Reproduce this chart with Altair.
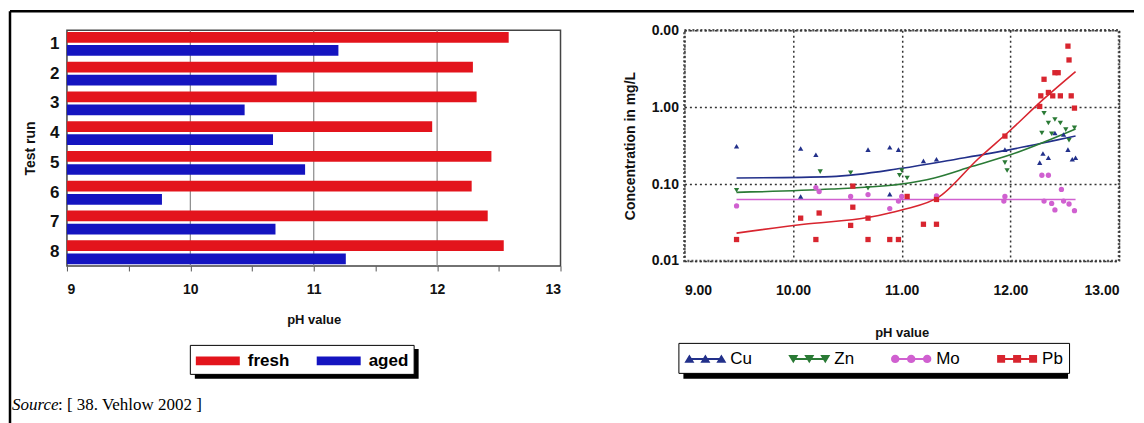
import altair as alt
import pandas as pd

# ---------------- data ----------------
runs = ["1", "2", "3", "4", "5", "6", "7", "8"]
fresh = [12.58, 12.29, 12.32, 11.96, 12.44, 12.28, 12.41, 12.54]
aged = [11.20, 10.70, 10.44, 10.67, 10.93, 9.77, 10.69, 11.26]
bar_series = ["fresh", "aged"]
bar_colors = ["#e3141c", "#1414c0"]
x_ticks_left = [9, 9.5, 10, 10.5, 11, 11.5, 12, 12.5, 13]
grid_left = [10, 11, 12]

cu_ph = [9.48, 10.07, 10.21, 10.69, 10.89, 10.97, 11.20, 11.32, 10.07, 10.89, 11.95, 12.27, 12.30, 12.35, 12.41, 12.49, 12.53, 12.57, 12.60]
cu_c = [0.31, 0.29, 0.24, 0.28, 0.30, 0.28, 0.20, 0.21, 0.069, 0.074, 0.28, 0.19, 0.25, 0.22, 0.46, 0.44, 0.28, 0.21, 0.22]
zn_ph = [9.48, 10.25, 10.53, 10.69, 11.00, 11.05, 11.95, 11.97, 12.29, 12.31, 12.35, 12.41, 12.46, 12.51, 12.59, 12.54, 12.38, 10.98]
zn_c = [0.083, 0.145, 0.14, 0.088, 0.15, 0.12, 0.19, 0.15, 0.46, 0.83, 0.62, 0.69, 0.62, 0.51, 0.54, 0.37, 0.45, 0.13]
mo_ph = [9.48, 10.21, 10.24, 10.53, 10.69, 10.89, 10.97, 11.00, 11.32, 11.95, 11.94, 12.29, 12.35, 12.31, 12.38, 12.41, 12.47, 12.54, 12.59, 12.49]
mo_c = [0.052, 0.09, 0.08, 0.069, 0.073, 0.048, 0.06, 0.069, 0.07, 0.069, 0.06, 0.13, 0.13, 0.06, 0.056, 0.046, 0.085, 0.055, 0.045, 0.06]
pb_ph = [9.48, 10.07, 10.21, 10.24, 10.53, 10.55, 10.55, 10.69, 10.69, 10.89, 10.97, 11.05, 11.20, 11.32, 11.32, 11.95, 12.27, 12.28, 12.31, 12.35, 12.39, 12.41, 12.44, 12.46, 12.53, 12.54, 12.56, 12.59]
pb_c = [0.019, 0.036, 0.019, 0.042, 0.029, 0.094, 0.05, 0.019, 0.036, 0.019, 0.019, 0.069, 0.030, 0.030, 0.063, 0.42, 1.02, 1.4, 2.3, 1.55, 1.4, 2.8, 2.8, 1.4, 6.2, 4.1, 1.4, 0.97]

cu_curve_ph = [9.48, 10.35, 11.0, 11.5, 12.0, 12.6]
cu_curve_c = [0.12, 0.125, 0.16, 0.21, 0.28, 0.42]
zn_curve_ph = [9.48, 10.35, 11.0, 11.3, 11.65, 12.0, 12.6]
zn_curve_c = [0.078, 0.086, 0.10, 0.12, 0.17, 0.24, 0.52]
mo_curve_ph = [9.48, 12.6]
mo_curve_c = [0.063, 0.063]
pb_curve_ph = [9.48, 10.1, 10.7, 11.0, 11.35, 11.7, 12.0, 12.3, 12.6]
pb_curve_c = [0.023, 0.030, 0.037, 0.046, 0.069, 0.21, 0.5, 1.25, 2.9]

metals = ["Cu", "Zn", "Mo", "Pb"]
metal_colors = ["#22308a", "#2a7a35", "#d060d0", "#d8252f"]
metal_shapes = ["triangle-up", "triangle-down", "circle", "square"]
x_ticks_right = [9, 10, 11, 12, 13]
y_ticks_right = [0.01, 0.1, 1, 10]

source_label = "Source"
source_rest = ": [ 38. Vehlow 2002 ]"

# ---------------- legend symbol paths (unit radius = 10 px, all clockwise) ----------------
def tri_up(cx):
    return f"M{cx-0.5:.2f},0.4L{cx:.2f},-0.45L{cx+0.5:.2f},0.4Z"

def tri_down(cx):
    return f"M{cx+0.5:.2f},-0.4L{cx:.2f},0.45L{cx-0.5:.2f},-0.4Z"

def circ(cx):
    return f"M{cx-0.42:.2f},0a0.42,0.42 0 1,1 0.84,0a0.42,0.42 0 1,1 -0.84,0Z"

def sq(cx):
    return f"M{cx-0.4:.2f},-0.4h0.8v0.8h-0.8Z"

line_path = "M-1.6,-0.1H1.6V0.1H-1.6Z"
centers = [-1.6, 0.0, 1.6]
legend_paths = [
    line_path + "".join(f(c) for c in centers)
    for f in (tri_up, tri_down, circ, sq)
]

FONT = "Liberation Sans"

# ---------------- left chart ----------------
bars_df = pd.DataFrame({
    "run": runs * 2,
    "series": ["fresh"] * len(runs) + ["aged"] * len(runs),
    "value": fresh + aged,
})

bars = alt.Chart(bars_df).mark_bar().encode(
    y=alt.Y("run:N", sort=runs, scale=alt.Scale(paddingInner=0.2, paddingOuter=0.06),
            axis=alt.Axis(title="Test run", labelFontSize=17, labelFontWeight="bold",
                          ticks=False, domain=False, labelPadding=8, labelAngle=0,
                          titleFontSize=14, titleFontWeight="bold", titlePadding=12)),
    yOffset=alt.YOffset("series:N", sort=bar_series, scale=alt.Scale(paddingInner=0.18)),
    x=alt.X("value:Q", scale=alt.Scale(domain=[9, 13], zero=False, nice=False),
            axis=alt.Axis(values=x_ticks_left,
                          labelExpr="datum.value % 1 == 0 ? format(datum.value, 'd') : ''",
                          grid=False, domain=False, tickSize=5, tickColor="#555",
                          labelFontSize=14, labelFontWeight="bold", labelPadding=12,
                          title="pH value", titleFontSize=13, titleFontWeight="bold",
                          titlePadding=17)),
    x2=alt.datum(9),
    color=alt.Color("series:N", sort=bar_series,
                    scale=alt.Scale(domain=bar_series, range=bar_colors),
                    legend=alt.Legend(title=None, orient="none", legendX=123, legendY=315,
                                      direction="horizontal",
                                      symbolType="M-2.2,-0.45H2.2V0.45H-2.2Z", symbolSize=400,
                                      symbolOffset=12, labelOffset=19,
                                      labelFontSize=17, labelFontWeight="bold",
                                      strokeColor="black", padding=5, fillColor="white",
                                      columnPadding=26)),
)

grid_df = pd.DataFrame({"g": grid_left})
grid = alt.Chart(grid_df).mark_rule(color="#8a8a8a", strokeWidth=1.2).encode(x="g:Q")

one = pd.DataFrame({"k": [0]})
frame_left = alt.Chart(one).mark_rule(color="black", strokeWidth=2.5).encode(
    x=alt.value(-57), x2=alt.value(-57), y=alt.value(-19), y2=alt.value(400))
frame_top = alt.Chart(one).mark_rule(color="black", strokeWidth=2.5).encode(
    x=alt.value(-57), x2=alt.value(1068), y=alt.value(-19), y2=alt.value(-19))
shadow_left = alt.Chart(one).mark_rect(color="black").encode(
    x=alt.value(128), x2=alt.value(352), y=alt.value(319), y2=alt.value(349))

src_df1 = pd.DataFrame({"t": [source_label]})
src_df2 = pd.DataFrame({"t": [source_rest]})
src1 = alt.Chart(src_df1).mark_text(font="Liberation Serif", fontSize=17, fontStyle="italic",
                                    align="left", baseline="alphabetic").encode(
    x=alt.value(-55), y=alt.value(380), text="t:N")
src2 = alt.Chart(src_df2).mark_text(font="Liberation Serif", fontSize=17,
                                    align="left", baseline="alphabetic").encode(
    x=alt.value(-9), y=alt.value(380), text="t:N")

left = alt.layer(grid, bars, frame_left, frame_top, shadow_left, src1, src2).properties(
    width=494, height=236,
    view=alt.ViewBackground(stroke="#444", strokeWidth=1.5),
)

# ---------------- right chart ----------------
pts_df = pd.DataFrame({
    "ph": cu_ph + zn_ph + mo_ph + pb_ph,
    "c": cu_c + zn_c + mo_c + pb_c,
    "series": ["Cu"] * len(cu_ph) + ["Zn"] * len(zn_ph) + ["Mo"] * len(mo_ph) + ["Pb"] * len(pb_ph),
})
curve_df = pd.DataFrame({
    "ph": cu_curve_ph + zn_curve_ph + mo_curve_ph + pb_curve_ph,
    "c": cu_curve_c + zn_curve_c + mo_curve_c + pb_curve_c,
    "series": ["Cu"] * len(cu_curve_ph) + ["Zn"] * len(zn_curve_ph)
              + ["Mo"] * len(mo_curve_ph) + ["Pb"] * len(pb_curve_ph),
})

xr = alt.X("ph:Q", scale=alt.Scale(domain=[9, 13], nice=False, zero=False),
           axis=alt.Axis(values=x_ticks_right, format=".2f", grid=True, gridDash=[2, 3],
                         gridColor="#333", gridWidth=1.5, ticks=False, domain=False,
                         labelFontSize=14, labelFontWeight="bold", labelPadding=23,
                         title="pH value", titleFontSize=13, titleFontWeight="bold",
                         titlePadding=29))
yr = alt.Y("c:Q", scale=alt.Scale(type="log", domain=[0.01, 10], nice=False),
           axis=alt.Axis(values=y_ticks_right,
                         labelExpr="datum.value == 10 ? '0.00' : format(datum.value, '.2f')",
                         grid=True, gridDash=[2, 3], gridColor="#333", gridWidth=1.5,
                         ticks=False, domain=False, labelFontSize=14, labelFontWeight="bold",
                         labelPadding=6, title="Concentration in mg/L", titleFontSize=14,
                         titleFontWeight="bold", titlePadding=14))

cscale = alt.Scale(domain=metals, range=metal_colors)

lines = alt.Chart(curve_df).mark_line(strokeWidth=1.6, interpolate="monotone").encode(
    x=xr, y=yr, detail="series:N",
    color=alt.Color("series:N", scale=cscale, legend=None),
)
points = alt.Chart(pts_df).mark_point(filled=True, size=28, opacity=1).encode(
    x=xr, y=yr,
    color=alt.Color("series:N", scale=cscale, legend=None),
    shape=alt.Shape("series:N", scale=alt.Scale(domain=metals, range=metal_shapes), legend=None),
)
shadow_right = alt.Chart(one).mark_rect(color="black").encode(
    x=alt.value(-1), x2=alt.value(384), y=alt.value(318), y2=alt.value(349))
leg_df = pd.DataFrame({"series": metals})
legend_layer = alt.Chart(leg_df).transform_filter("datum.series == 'none'").mark_point(
    filled=True, opacity=1, fillOpacity=1, strokeWidth=0).encode(
    color=alt.Color("series:N", scale=cscale, sort=metals,
                    legend=alt.Legend(title=None, orient="none", legendX=-6, legendY=313,
                                      direction="horizontal", symbolSize=400,
                                      symbolOffset=11, labelOffset=15,
                                      symbolOpacity=1, symbolStrokeWidth=0,
                                      labelFontSize=17, labelFont=FONT,
                                      strokeColor="black", padding=6, fillColor="white",
                                      columnPadding=36)),
    shape=alt.Shape("series:N", sort=metals,
                    scale=alt.Scale(domain=metals, range=legend_paths)),
)

right = alt.layer(lines, points, shadow_right, legend_layer).resolve_scale(
    color="independent", shape="independent"
).properties(
    width=435, height=231,
    view=alt.ViewBackground(stroke="#555", strokeWidth=2.5, strokeDash=[2, 2]),
)

chart = alt.hconcat(left, right, spacing=124, bounds="flush").resolve_scale(
    color="independent", shape="independent"
).properties(
    padding={"left": 0, "top": 1, "right": 0, "bottom": 0},
    background="white",
).configure(font=FONT).configure_axis(labelColor="#111", titleColor="#111")

chart.save("out.html", embed_options={"renderer": "svg", "actions": False})
